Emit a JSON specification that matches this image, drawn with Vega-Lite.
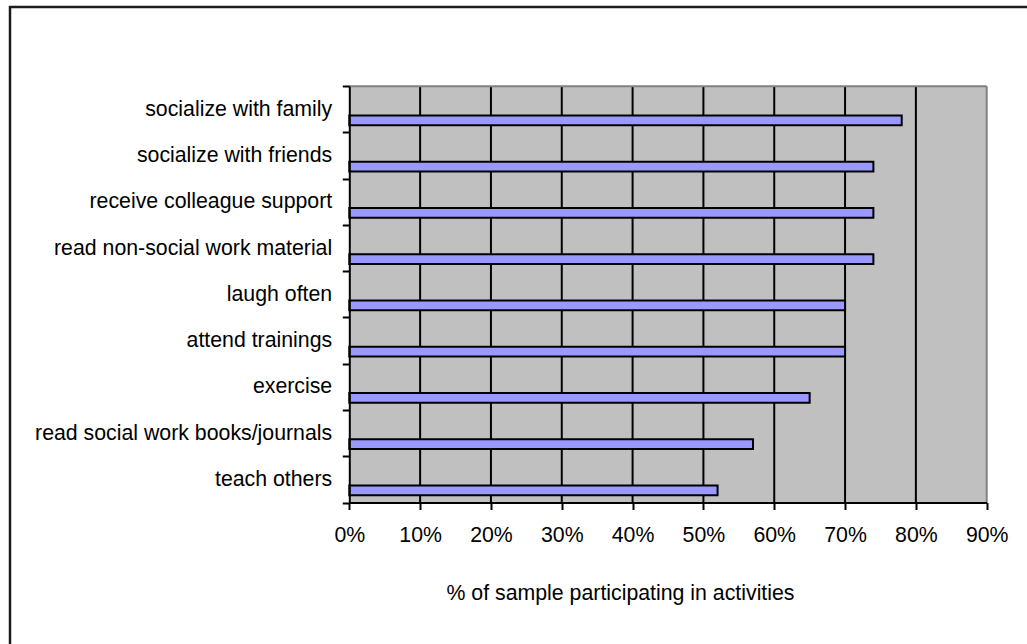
{
  "$schema": "https://vega.github.io/schema/vega-lite/v6.json",
  "width": 1030,
  "height": 650,
  "autosize": {"type": "none"},
  "padding": {"left": 10, "top": 7, "right": -13, "bottom": -13},
  "background": "white",
  "config": {
    "font": "Liberation Sans",
    "view": {"stroke": "#1c1c1c", "strokeWidth": 2.5, "fill": "white"}
  },
  "layer": [
    {
      "layer": [
        {
          "data": {"values": [{}]},
          "mark": {"type": "rect", "fill": "#C0C0C0"},
          "encoding": {
            "x": {
              "datum": 0,
              "type": "quantitative",
              "scale": {"domain": [0, 0.9], "range": [339.3, 976.7], "nice": false},
              "axis": {
                "orient": "bottom",
                "offset": -154.5,
                "values": [0, 0.1, 0.2, 0.3, 0.4, 0.5, 0.6, 0.7, 0.8, 0.9],
                "format": ".0%",
                "grid": false,
                "zindex": 2,
                "domainColor": "#000000",
                "domainWidth": 2,
                "tickColor": "#000000",
                "tickWidth": 2,
                "tickSize": 7,
                "labelFont": "Liberation Sans",
                "labelFontSize": 21.3,
                "labelColor": "#000000",
                "labelBaseline": "alphabetic",
                "labelPadding": 32.2,
                "labelFlush": false,
                "labelOverlap": false,
                "title": "% of sample participating in activities",
                "titleFont": "Liberation Sans",
                "titleFontSize": 21.3,
                "titleFontWeight": "normal",
                "titleColor": "#000000",
                "titleX": 610,
                "titleY": 97,
                "titleAlign": "center",
                "titleBaseline": "alphabetic"
              }
            },
            "x2": {"datum": 0.9},
            "y": {"datum": 0, "type": "quantitative", "scale": {"domain": [0, 9], "range": [495.5, 79.2], "nice": false, "zero": false}, "axis": null},
            "y2": {"datum": 9}
          }
        },
        {
          "data": {"values": [{"g": 0.1}, {"g": 0.2}, {"g": 0.3}, {"g": 0.4}, {"g": 0.5}, {"g": 0.6}, {"g": 0.7}, {"g": 0.8}]},
          "mark": {"type": "rule", "stroke": "#000000", "strokeWidth": 2},
          "encoding": {
            "x": {"field": "g", "type": "quantitative"},
            "y": {"datum": 0, "type": "quantitative", "axis": null},
            "y2": {"datum": 9}
          }
        },
        {
          "data": {"values": [{}]},
          "mark": {"type": "rule", "stroke": "#808080", "strokeWidth": 2},
          "encoding": {
            "x": {"datum": 0, "type": "quantitative"},
            "x2": {"datum": 0.9},
            "y": {"datum": 9, "type": "quantitative", "axis": null}
          }
        },
        {
          "data": {"values": [{}]},
          "mark": {"type": "rule", "stroke": "#808080", "strokeWidth": 2},
          "encoding": {
            "x": {"datum": 0.9, "type": "quantitative"},
            "y": {"datum": 0, "type": "quantitative", "axis": null},
            "y2": {"datum": 9}
          }
        }
      ]
    },
    {
      "data": {
        "values": [
          {"activity": "socialize with family", "share": 0.78},
          {"activity": "socialize with friends", "share": 0.74},
          {"activity": "receive colleague support", "share": 0.74},
          {"activity": "read non-social work material", "share": 0.74},
          {"activity": "laugh often", "share": 0.70},
          {"activity": "attend trainings", "share": 0.70},
          {"activity": "exercise", "share": 0.65},
          {"activity": "read social work books/journals", "share": 0.57},
          {"activity": "teach others", "share": 0.52}
        ]
      },
      "mark": {"type": "bar", "fill": "#9999FF", "stroke": "#000000", "strokeWidth": 2, "height": 9.7, "yOffset": 11.1},
      "encoding": {
        "y": {
          "field": "activity",
          "type": "nominal",
          "sort": null,
          "scale": {"range": [79.2, 495.5], "paddingInner": 0, "paddingOuter": 0},
          "axis": {
            "title": null,
            "orient": "left",
            "offset": -339.3,
            "grid": false,
            "zindex": 2,
            "domainColor": "#000000",
            "domainWidth": 2,
            "tickColor": "#000000",
            "tickWidth": 2,
            "tickSize": 7,
            "tickBand": "extent",
            "labelFont": "Liberation Sans",
            "labelFontSize": 21.3,
            "labelColor": "#000000",
            "labelPadding": 10.6,
            "labelLimit": 0,
            "labelBaseline": "middle"
          }
        },
        "x": {
          "field": "share",
          "type": "quantitative",
          "scale": {"domain": [0, 0.9], "range": [339.3, 976.7], "nice": false}
        }
      }
    }
  ],
  "resolve": {"scale": {"y": "independent"}, "axis": {"y": "independent"}}
}
